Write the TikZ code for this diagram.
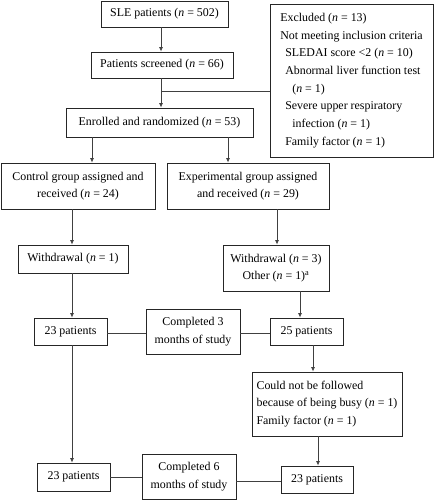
\documentclass[tikz,border=0pt]{standalone}
\usepackage{fontspec}
\setmainfont{Liberation Serif}
\usetikzlibrary{arrows.meta}
\newcommand\nv{\textit{n}}
\begin{document}
\begin{tikzpicture}[x=1pt,y=-1pt,
  box/.style={draw=black!85,line width=0.8pt,inner sep=0pt,align=center,
    font=\fontsize{11.9}{17.7}\selectfont},
  lbox/.style={box,align=left},
  arr/.style={draw=black!75,line width=0.8pt,-{Latex[length=4.5pt,width=4pt]}},
  ln/.style={draw=black!75,line width=0.8pt}]
\useasboundingbox (0,0) rectangle (437,500);
\node[box,minimum width=127pt,minimum height=26pt] (sle) at (164.5,14) {SLE patients (\nv{} = 502)};
\node[box,minimum width=142pt,minimum height=26pt] (scr) at (162,65) {Patients screened (\nv{} = 66)};
\node[box,minimum width=187pt,minimum height=29pt] (enr) at (159.5,122.5) {Enrolled and randomized (\nv{} = 53)};
\node[lbox,minimum width=163pt,minimum height=153pt] (exc) at (351.5,80.5) {Excluded (\nv{} = 13)\\
Not meeting inclusion criteria\\
\hspace*{5pt}SLEDAI score <2 (\nv{} = 10)\\
\hspace*{5pt}Abnormal liver function test\\
\hspace*{12pt}(\nv{} = 1)\\
\hspace*{5pt}Severe upper respiratory\\
\hspace*{12pt}infection (\nv{} = 1)\\
\hspace*{5pt}Family factor (\nv{} = 1)};
\node[box,minimum width=154pt,minimum height=46pt] (ctl) at (78,186) {Control group assigned and\\received (\nv{} = 24)};
\node[box,minimum width=162pt,minimum height=46pt] (exp) at (248,186) {Experimental group assigned\\and received (\nv{} = 29)};
\node[box,minimum width=110pt,minimum height=28pt] (wd1) at (73,259) {Withdrawal (\nv{} = 1)};
\node[box,minimum width=106pt,minimum height=46pt] (wd2) at (276,268) {Withdrawal (\nv{} = 3)\\Other (\nv{} = 1)\textsuperscript{a}};
\node[box,minimum width=73pt,minimum height=27pt] (p23a) at (70.5,331.5) {23 patients};
\node[box,minimum width=94pt,minimum height=45pt] (c3) at (193,331.5) {Completed 3\\months of study};
\node[box,minimum width=73pt,minimum height=27pt] (p25) at (306.5,331.5) {25 patients};
\node[lbox,minimum width=150pt,minimum height=64pt] (cnb) at (327,404) {Could not be followed\\because of being busy (\nv{} = 1)\\Family factor (\nv{} = 1)};
\node[box,minimum width=73pt,minimum height=28pt] (p23b) at (73.5,477) {23 patients};
\node[box,minimum width=94pt,minimum height=45pt] (c6) at (189,476.5) {Completed 6\\months of study};
\node[box,minimum width=72pt,minimum height=27pt] (p23c) at (317,479.5) {23 patients};
\coordinate (xa) at (161,0);
\coordinate (xb) at (92,0);
\coordinate (xc) at (228,0);
\coordinate (xd) at (72,0);
\coordinate (xe) at (277,0);
\coordinate (xf) at (300,0);
\coordinate (xg) at (313,0);
\coordinate (xh) at (318,0);
\coordinate (j) at (161,91);
\coordinate (y3) at (0,333);
\coordinate (y6a) at (0,477);
\coordinate (y6b) at (0,481);
\draw[arr] (sle.south -| xa) -- (scr.north -| xa);
\draw[arr] (scr.south -| xa) -- (enr.north -| xa);
\draw[ln] (j) -- (j -| exc.west);
\draw[arr] (enr.south -| xb) -- (ctl.north -| xb);
\draw[arr] (enr.south -| xc) -- (exp.north -| xc);
\draw[arr] (ctl.south -| xd) -- (wd1.north -| xd);
\draw[arr] (wd1.south -| xd) -- (p23a.north -| xd);
\draw[arr] (p23a.south -| xd) -- (p23b.north -| xd);
\draw[arr] (exp.south -| xe) -- (wd2.north -| xe);
\draw[arr] (wd2.south -| xf) -- (p25.north -| xf);
\draw[arr] (p25.south -| xg) -- (cnb.north -| xg);
\draw[arr] (cnb.south -| xh) -- (p23c.north -| xh);
\draw[ln] (p23a.east |- y3) -- (c3.west |- y3);
\draw[ln] (c3.east |- y3) -- (p25.west |- y3);
\draw[ln] (p23b.east |- y6a) -- (c6.west |- y6a);
\draw[ln] (c6.east |- y6b) -- (p23c.west |- y6b);
\end{tikzpicture}
\end{document}
